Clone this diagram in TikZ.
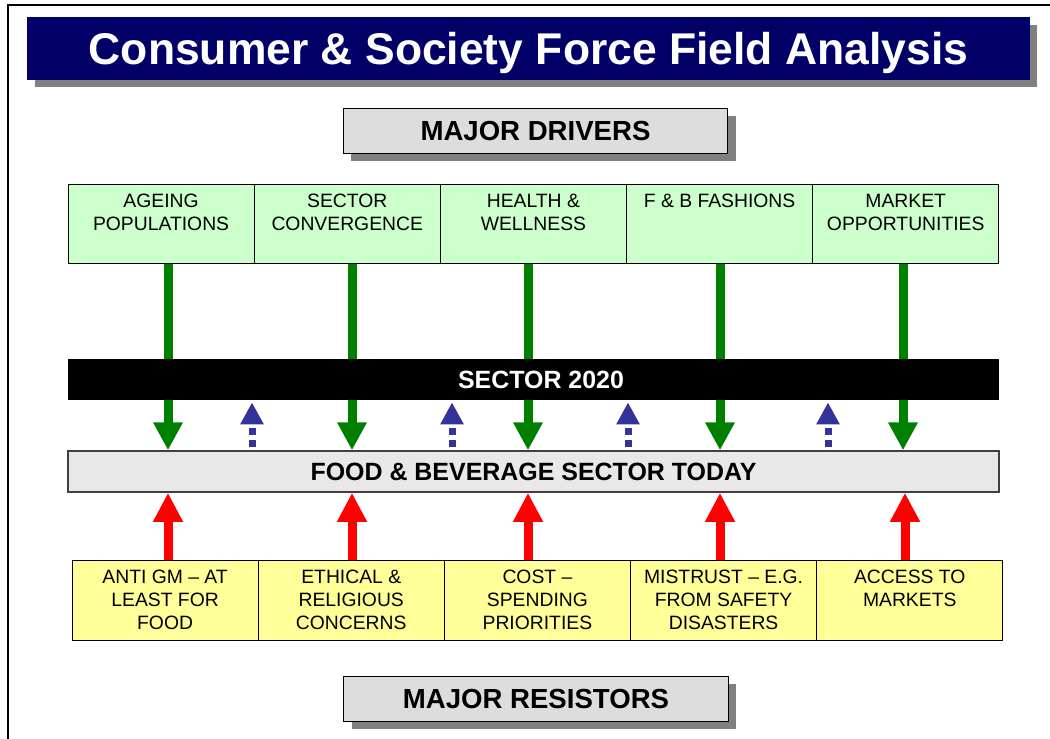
\documentclass[tikz,border=0pt]{standalone}
\usepackage{fontspec}
\setmainfont{Liberation Sans}
\usetikzlibrary{arrows.meta,positioning,shadows}
\definecolor{titleblue}{RGB}{0,0,102}
\definecolor{headgray}{RGB}{221,221,221}
\definecolor{todaygray}{RGB}{232,232,232}
\definecolor{drivergreen}{RGB}{204,255,204}
\definecolor{resistyellow}{RGB}{255,255,153}
\definecolor{arrowgreen}{RGB}{0,128,0}
\definecolor{fbblue}{RGB}{51,51,153}
\begin{document}
\begin{tikzpicture}[x=0.02cm,y=-0.02cm,
    box/.style={draw=black,line width=0.02cm,inner sep=0pt,outer sep=0pt,
      minimum width=3.724cm,minimum height=1.6cm,align=center,
      font=\fontsize{11}{13.1}\selectfont},
    driver/.style={box,fill=drivergreen},
    resistor/.style={box,fill=resistyellow},
    header/.style={draw=black,line width=0.02cm,fill=headgray,inner sep=0pt,
      minimum width=7.7cm,minimum height=0.9cm,
      font=\bfseries\fontsize{15.7}{18}\selectfont,
      drop shadow={shadow xshift=0.16cm,shadow yshift=-0.16cm,fill=black!50,opacity=1}},
    bar/.style={inner sep=0pt,minimum width=18.62cm,minimum height=0.82cm,
      font=\bfseries\fontsize{14.2}{17}\selectfont},
    drive/.style={draw=arrowgreen,line width=0.18cm,-{Triangle[width=0.56cm,length=0.56cm]}},
    resist/.style={draw=red,line width=0.18cm,-{Triangle[width=0.56cm,length=0.58cm]}},
    feedback/.style={draw=fbblue,line width=0.14cm,dash pattern=on 0.14cm off 0.1cm,
      -{Triangle[width=0.44cm,length=0.44cm]}}]
  \useasboundingbox (0,0) rectangle (1050,738);
  \clip (0,0) rectangle (1050,738);
  % frame
  \draw[line width=0.03cm] (8,760) -- (8,5) -- (1080,5);

  % title
  \node[fill=titleblue,text=white,inner sep=0pt,minimum width=20.06cm,minimum height=1.26cm,
    text depth=0pt,font=\bfseries\fontsize{25.3}{30}\selectfont,
    drop shadow={shadow xshift=0.15cm,shadow yshift=-0.15cm,fill=black!50,opacity=1}]
    (title) at (528.5,48.5) {Consumer \& Society Force Field Analysis};

  % drivers
  \node[header] (drivers) at (535.5,130.5) {MAJOR DRIVERS};
  \node[driver,anchor=north west] (d1) at (68,184) {AGEING\\POPULATIONS\\\mbox{}};
  \node[driver,right=0pt of d1] (d2) {SECTOR\\CONVERGENCE\\\mbox{}};
  \node[driver,right=0pt of d2] (d3) {HEALTH \&\\WELLNESS\\\mbox{}};
  \node[driver,right=0pt of d3] (d4) {F \& B FASHIONS\\\mbox{}\\\mbox{}};
  \node[driver,right=0pt of d4] (d5) {MARKET\\OPPORTUNITIES\\\mbox{}};

  % resistors
  \node[resistor,anchor=north west] (r1) at (72,560) {ANTI GM – AT\\LEAST FOR\\FOOD};
  \node[resistor,right=0pt of r1] (r2) {ETHICAL \&\\RELIGIOUS\\CONCERNS};
  \node[resistor,right=0pt of r2] (r3) {COST –\\SPENDING\\PRIORITIES};
  \node[resistor,right=0pt of r3] (r4) {MISTRUST – E.G.\\FROM SAFETY\\DISASTERS};
  \node[resistor,right=0pt of r4] (r5) {ACCESS TO\\MARKETS\\\mbox{}};
  \node[header] (resistors) at (536,698.5) {MAJOR RESISTORS};

  % today
  \node[bar,fill=todaygray,draw=black!75,line width=0.03cm] (today) at (533.5,471.5)
    {FOOD \& BEVERAGE SECTOR TODAY};

  \foreach \n/\x in {1/168,2/352,3/528,4/720,5/903}
    \draw[drive] (d\n.south -| \x,0) -- (today.north -| \x,0);

  % 2020
  \node[bar,fill=black,text=white] (sector) at (533.5,379.5) {\hspace*{0.3cm}SECTOR 2020};

  \foreach \x in {252,452,628,828}
    \draw[feedback,shorten <=0.06cm,shorten >=0.04cm] (today.north -| \x,0) -- (sector.south -| \x,0);

  \foreach \n/\x in {1/168,2/352,3/528,4/720,5/905}
    \draw[resist] (r\n.north -| \x,0) -- (today.south -| \x,0);
\end{tikzpicture}
\end{document}
